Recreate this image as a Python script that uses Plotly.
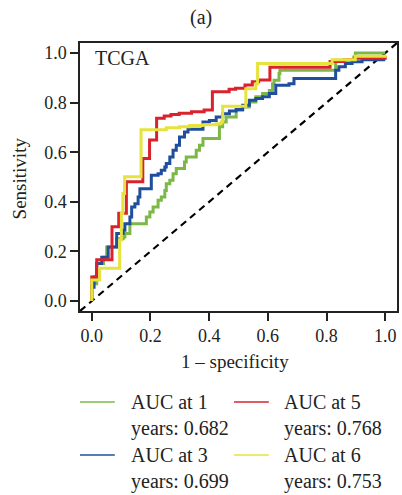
import plotly.graph_objects as go

# ROC step corners (1 - specificity, sensitivity)
fpr_1y = [0, 0, 0.011, 0.017, 0.040, 0.051, 0.085, 0.107, 0.113, 0.130, 0.186, 0.198, 0.209, 0.226,
          0.237, 0.249, 0.254, 0.266, 0.277, 0.288, 0.316, 0.322, 0.356, 0.367, 0.379, 0.435, 0.446,
          0.458, 0.492, 0.514, 0.537, 0.559, 0.582, 0.605, 0.616, 0.621, 0.638, 0.641, 0.831, 0.893,
          0.898, 1.0]
tpr_1y = [0, 0.070, 0.070, 0.151, 0.177, 0.218, 0.251, 0.258, 0.272, 0.312, 0.339, 0.359, 0.379, 0.406,
          0.419, 0.446, 0.473, 0.487, 0.513, 0.534, 0.560, 0.581, 0.608, 0.628, 0.655, 0.702, 0.722,
          0.742, 0.769, 0.782, 0.802, 0.823, 0.836, 0.849, 0.876, 0.890, 0.917, 0.930, 0.970, 0.984,
          1.0, 1.0]

fpr_3y = [0, 0, 0.008, 0.017, 0.034, 0.056, 0.085, 0.107, 0.113, 0.130, 0.136, 0.147, 0.158, 0.164,
          0.203, 0.226, 0.237, 0.249, 0.254, 0.266, 0.277, 0.288, 0.299, 0.316, 0.328, 0.379, 0.401,
          0.424, 0.446, 0.469, 0.492, 0.514, 0.537, 0.559, 0.582, 0.605, 0.627, 0.672, 0.689, 0.831,
          0.842, 0.864, 0.887, 0.921, 1.0]
tpr_3y = [0, 0.056, 0.097, 0.151, 0.177, 0.218, 0.272, 0.285, 0.312, 0.339, 0.379, 0.392, 0.419, 0.453,
          0.507, 0.513, 0.527, 0.540, 0.554, 0.581, 0.608, 0.628, 0.661, 0.681, 0.692, 0.722, 0.728,
          0.742, 0.755, 0.766, 0.772, 0.789, 0.809, 0.816, 0.823, 0.836, 0.870, 0.876, 0.897, 0.930,
          0.944, 0.957, 0.964, 0.973, 0.973]

fpr_5y = [0, 0, 0.017, 0.069, 0.092, 0.118, 0.174, 0.197, 0.221, 0.247, 0.270, 0.298, 0.340, 0.383,
          0.411, 0.468, 0.490, 0.522, 0.547, 0.569, 0.607, 0.812, 0.860, 0.897, 1.0]
tpr_5y = [0, 0.097, 0.167, 0.300, 0.354, 0.481, 0.575, 0.649, 0.737, 0.746, 0.752, 0.757, 0.763, 0.770,
          0.844, 0.854, 0.858, 0.871, 0.884, 0.891, 0.942, 0.965, 0.972, 0.979, 0.988]

fpr_6y = [0, 0, 0.027, 0.095, 0.101, 0.106, 0.112, 0.168, 0.254, 0.299, 0.333, 0.379, 0.424, 0.441,
          0.446, 0.525, 0.559, 0.565, 0.819, 0.898, 1.0]
tpr_6y = [0, 0.085, 0.132, 0.246, 0.354, 0.434, 0.501, 0.690, 0.698, 0.702, 0.708, 0.711, 0.715, 0.722,
          0.785, 0.856, 0.876, 0.957, 0.973, 0.987, 0.991]

series_names = ["AUC at 1", "AUC at 3", "AUC at 5", "AUC at 6"]
series_auc = ["years: 0.682", "years: 0.699", "years: 0.768", "years: 0.753"]
series_colors = ["#7cb846", "#1f4f9c", "#d9222c", "#e6e23e"]
series_x = [fpr_1y, fpr_3y, fpr_5y, fpr_6y]
series_y = [tpr_1y, tpr_3y, tpr_5y, tpr_6y]

tick_vals = [0, 0.2, 0.4, 0.6, 0.8, 1.0]
tick_text = ["0.0", "0.2", "0.4", "0.6", "0.8", "1.0"]
diag = [-0.04, 1.04]

W, H = 402, 495
L, R, T, B = 80, 3, 43, 184
pw, ph = W - L - R, H - T - B
FONT = "Liberation Serif, Times New Roman, serif"
INK = "#222222"


def px(X):
    return (X - L) / pw


def py(Y):
    return (H - B - Y) / ph


fig = go.Figure()
fig.add_trace(go.Scatter(x=diag, y=diag, mode="lines",
                         line=dict(color="black", width=2.2, dash="7px,5px"),
                         showlegend=False, hoverinfo="skip"))
for xs, ys, c, n in zip(series_x, series_y, series_colors, series_names):
    fig.add_trace(go.Scatter(x=xs, y=ys, mode="lines", name=n,
                             line=dict(color=c, width=3, shape="hv"),
                             showlegend=False))

axis_common = dict(range=[-0.04, 1.04], tickvals=tick_vals, ticktext=tick_text,
                   showline=True, mirror=True, linecolor=INK, linewidth=1.5,
                   ticks="outside", ticklen=8, tickwidth=1.5, tickcolor=INK,
                   showgrid=False, zeroline=False,
                   tickfont=dict(family=FONT, size=18, color=INK))
fig.update_xaxes(**axis_common)
fig.update_yaxes(**axis_common)

ann = []
ann.append(dict(text="(a)", x=px(202), y=py(18), xref="paper", yref="paper",
                xanchor="center", yanchor="middle",
                showarrow=False, font=dict(family=FONT, size=20, color=INK)))
ann.append(dict(text="Sensitivity", x=px(19), y=py(178), xref="paper", yref="paper",
                xanchor="center", yanchor="middle",
                showarrow=False, textangle=-90, font=dict(family=FONT, size=19, color=INK)))
ann.append(dict(text="1 – specificity", x=px(236), y=py(361), xref="paper", yref="paper",
                xanchor="center", yanchor="middle",
                showarrow=False, font=dict(family=FONT, size=19, color=INK)))
ann.append(dict(text="TCGA", x=0.005, y=0.98, xref="x", yref="y", xanchor="left",
                yanchor="middle",
                showarrow=False, font=dict(family=FONT, size=20, color=INK)))

# manual two-column legend
leg_cols = [(80, 115, 129), (80, 115, 129), (235, 270, 283), (235, 270, 283)]
leg_rows = [402, 455, 402, 455]
shapes = []
for i in range(4):
    x0, x1, xt = leg_cols[i]
    yr = leg_rows[i]
    shapes.append(dict(type="line", xref="paper", yref="paper", x0=px(x0), x1=px(x1),
                       y0=py(yr), y1=py(yr), line=dict(color=series_colors[i], width=1.5)))
    ann.append(dict(text=series_names[i], x=px(xt), y=py(yr), xref="paper", yref="paper",
                    xanchor="left", yanchor="middle", showarrow=False,
                    font=dict(family=FONT, size=20, color=INK)))
    ann.append(dict(text=series_auc[i], x=px(xt), y=py(yr + 26), xref="paper", yref="paper",
                    xanchor="left", yanchor="middle", showarrow=False,
                    font=dict(family=FONT, size=20, color=INK)))

fig.update_layout(width=W, height=H, margin=dict(l=L, r=R, t=T, b=B),
                  paper_bgcolor="white", plot_bgcolor="white",
                  annotations=ann, shapes=shapes, showlegend=False)

fig.write_html("out.html")
